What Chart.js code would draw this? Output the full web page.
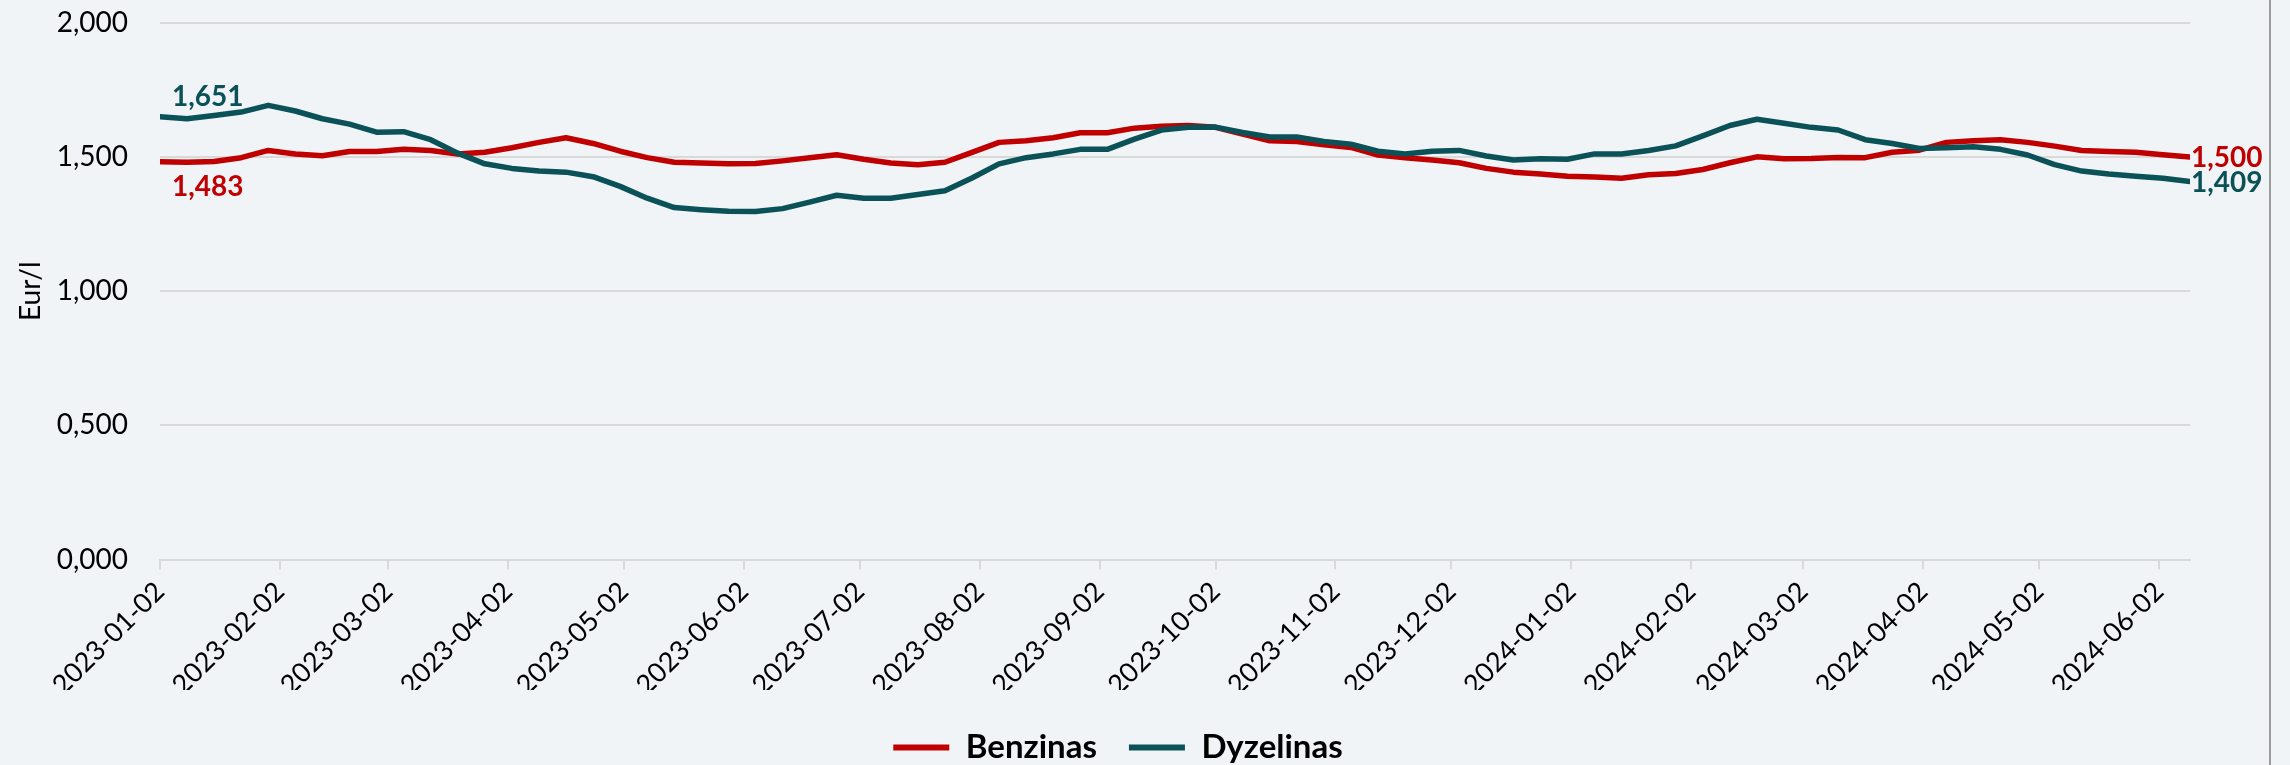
<!DOCTYPE html>
<html lang="lt">
<head>
    <meta charset="UTF-8">
    <title>Benzinas ir dyzelinas</title>
    <script src="https://cdn.jsdelivr.net/npm/chart.js"></script>
    <style>
        body { margin: 0; background: #F0F4F7; }
        .wrap { position: relative; width: 2290px; height: 765px; }
        .edge { position: absolute; left: 2269px; top: 0; width: 2px; height: 765px; background: #9c9c9c; }
    </style>
</head>
<body>
    <div class="wrap">
        <canvas id="priceChart" width="2290" height="765"></canvas>
        <div class="edge"></div>
    </div>

    <script>
        // weekly observation dates
        const dates = [
            '2023-01-02', '2023-01-09', '2023-01-16', '2023-01-23', '2023-01-30',
            '2023-02-06', '2023-02-13', '2023-02-20', '2023-02-27',
            '2023-03-06', '2023-03-13', '2023-03-20', '2023-03-27',
            '2023-04-03', '2023-04-10', '2023-04-17', '2023-04-24',
            '2023-05-01', '2023-05-08', '2023-05-15', '2023-05-22', '2023-05-29',
            '2023-06-05', '2023-06-12', '2023-06-19', '2023-06-26',
            '2023-07-03', '2023-07-10', '2023-07-17', '2023-07-24', '2023-07-31',
            '2023-08-07', '2023-08-14', '2023-08-21', '2023-08-28',
            '2023-09-04', '2023-09-11', '2023-09-18', '2023-09-25',
            '2023-10-02', '2023-10-09', '2023-10-16', '2023-10-23', '2023-10-30',
            '2023-11-06', '2023-11-13', '2023-11-20', '2023-11-27',
            '2023-12-04', '2023-12-11', '2023-12-18', '2023-12-25',
            '2024-01-01', '2024-01-08', '2024-01-15', '2024-01-22', '2024-01-29',
            '2024-02-05', '2024-02-12', '2024-02-19', '2024-02-26',
            '2024-03-04', '2024-03-11', '2024-03-18', '2024-03-25',
            '2024-04-01', '2024-04-08', '2024-04-15', '2024-04-22', '2024-04-29',
            '2024-05-06', '2024-05-13', '2024-05-20', '2024-05-27',
            '2024-06-03', '2024-06-10'
        ];

        const benzinas = [
            1.483, 1.481, 1.484, 1.498, 1.525, 1.512, 1.505, 1.521, 1.521, 1.529,
            1.525, 1.512, 1.518, 1.535, 1.555, 1.572, 1.551, 1.522, 1.498, 1.481,
            1.478, 1.475, 1.476, 1.486, 1.498, 1.509, 1.492, 1.478, 1.472, 1.481,
            1.518, 1.555, 1.561, 1.572, 1.591, 1.591, 1.608, 1.615, 1.618, 1.611,
            1.586, 1.561, 1.558, 1.546, 1.536, 1.508, 1.498, 1.489, 1.479, 1.458,
            1.444, 1.437, 1.429, 1.426, 1.421, 1.434, 1.439, 1.454, 1.479, 1.501,
            1.494, 1.495, 1.499, 1.498, 1.518, 1.526, 1.555, 1.561, 1.565, 1.555,
            1.541, 1.525, 1.521, 1.518, 1.509, 1.500
        ];

        const dyzelinas = [
            1.651, 1.643, 1.655, 1.668, 1.693, 1.672, 1.643, 1.623, 1.593, 1.595,
            1.565, 1.515, 1.475, 1.458, 1.448, 1.444, 1.427, 1.391, 1.347, 1.312,
            1.304, 1.298, 1.297, 1.308, 1.332, 1.358, 1.347, 1.347, 1.361, 1.375,
            1.422, 1.475, 1.498, 1.512, 1.529, 1.529, 1.567, 1.601, 1.611, 1.612,
            1.592, 1.575, 1.575, 1.558, 1.548, 1.522, 1.512, 1.522, 1.525, 1.504,
            1.489, 1.494, 1.492, 1.512, 1.512, 1.525, 1.542, 1.579, 1.618, 1.641,
            1.626, 1.611, 1.601, 1.565, 1.551, 1.532, 1.535, 1.539, 1.529, 1.508,
            1.472, 1.448, 1.437, 1.429, 1.421, 1.409
        ];

        // x axis tick labels (monthly)
        const tickLabels = [
            '2023-01-02', '2023-02-02', '2023-03-02', '2023-04-02', '2023-05-02', '2023-06-02',
            '2023-07-02', '2023-08-02', '2023-09-02', '2023-10-02', '2023-11-02', '2023-12-02',
            '2024-01-02', '2024-02-02', '2024-03-02', '2024-04-02', '2024-05-02', '2024-06-02'
        ];

        const yTicks = [0, 0.5, 1, 1.5, 2];

        const RED = '#C00000';
        const TEAL = '#0B5258';
        const FONT = 'Lato';

        // days since first date, so the x axis can stay linear
        const start = Date.parse(dates[0]);
        const dayOf = d => Math.round((Date.parse(d) - start) / 86400000);
        const tickDays = tickLabels.map(dayOf);

        const fmt = v => v.toFixed(3).replace('.', ',');

        // first / last value labels
        const endLabels = {
            id: 'endLabels',
            afterDatasetsDraw(chart) {
                const ctx = chart.ctx;
                ctx.save();
                ctx.font = `bold 28px ${FONT}`;
                ctx.textBaseline = 'middle';
                ctx.textAlign = 'left';
                chart.data.datasets.forEach((ds, i) => {
                    const pts = chart.getDatasetMeta(i).data;
                    const first = pts[0], last = pts[pts.length - 1];
                    ctx.fillStyle = ds.borderColor;
                    const dy = i === 0 ? 25 : -20;
                    ctx.fillText(fmt(ds.data[0].y), first.x + 12, first.y + dy);
                    ctx.fillText(fmt(ds.data[ds.data.length - 1].y), last.x + 1, last.y + 1);
                });
                ctx.restore();
            }
        };

        // nudge the legend so it sits where the original one does
        const legendShift = {
            id: 'legendShift',
            afterLayout(chart) {
                chart.legend.left += 23;
                chart.legend.right += 23;
                chart.legend.top += 9;
                chart.legend.bottom += 9;
            }
        };

        const ctx = document.getElementById('priceChart').getContext('2d');

        new Chart(ctx, {
            type: 'line',
            data: {
                datasets: [
                    {
                        label: 'Benzinas',
                        data: dates.map((d, i) => ({ x: dayOf(d), y: benzinas[i] })),
                        borderColor: RED,
                        backgroundColor: RED,
                        order: 1,
                    },
                    {
                        label: 'Dyzelinas',
                        data: dates.map((d, i) => ({ x: dayOf(d), y: dyzelinas[i] })),
                        borderColor: TEAL,
                        backgroundColor: TEAL,
                        order: 0,
                    },
                ],
            },
            options: {
                responsive: false,
                animation: false,
                devicePixelRatio: 1,
                layout: { padding: { top: 23, right: 100, bottom: 0, left: 0 } },
                elements: {
                    line: { borderWidth: 5.5, tension: 0, borderCapStyle: 'round', borderJoinStyle: 'round', fill: false },
                    point: { radius: 0, hoverRadius: 0 },
                },
                scales: {
                    x: {
                        type: 'linear',
                        min: 0,
                        max: dayOf(dates[dates.length - 1]),
                        afterBuildTicks: scale => { scale.ticks = tickDays.map(v => ({ value: v })); },
                        afterFit: scale => {
                            scale.height = 130.5;
                            scale.paddingLeft = 0;
                            scale.paddingRight = 0;
                        },
                        grid: { drawOnChartArea: false, drawTicks: true, tickLength: 10, color: '#D9D9D9', lineWidth: 2 },
                        border: { display: true, color: '#D9D9D9', width: 2 },
                        ticks: {
                            autoSkip: false,
                            minRotation: 45,
                            maxRotation: 45,
                            padding: 6,
                            color: '#000',
                            font: { family: FONT, size: 27 },
                            callback: (value, index) => tickLabels[index],
                        },
                    },
                    y: {
                        min: 0,
                        max: 2,
                        afterBuildTicks: scale => { scale.ticks = yTicks.map(v => ({ value: v })); },
                        afterFit: scale => {
                            scale.width = 160;
                            scale.paddingTop = 0;
                            scale.paddingBottom = 0;
                        },
                        grid: { color: '#D9D9D9', lineWidth: 2, drawTicks: false },
                        border: { display: false },
                        ticks: {
                            padding: 32,
                            color: '#000',
                            font: { family: FONT, size: 28 },
                            callback: v => fmt(v),
                        },
                        title: {
                            display: true,
                            text: 'Eur/l',
                            color: '#000',
                            padding: { top: 14, bottom: 0 },
                            font: { family: FONT, size: 28 },
                        },
                    },
                },
                plugins: {
                    legend: {
                        position: 'bottom',
                        labels: {
                            boxWidth: 56,
                            boxHeight: 6,
                            padding: 32,
                            color: '#000',
                            font: { family: FONT, size: 33, weight: 'bold' },
                            sort: (a, b) => a.datasetIndex - b.datasetIndex,
                            generateLabels: chart => Chart.defaults.plugins.legend.labels.generateLabels(chart)
                                .map(item => Object.assign(item, { lineWidth: 0 })),
                        },
                    },
                    tooltip: { enabled: false },
                },
            },
            plugins: [endLabels, legendShift],
        });
    </script>
</body>
</html>
